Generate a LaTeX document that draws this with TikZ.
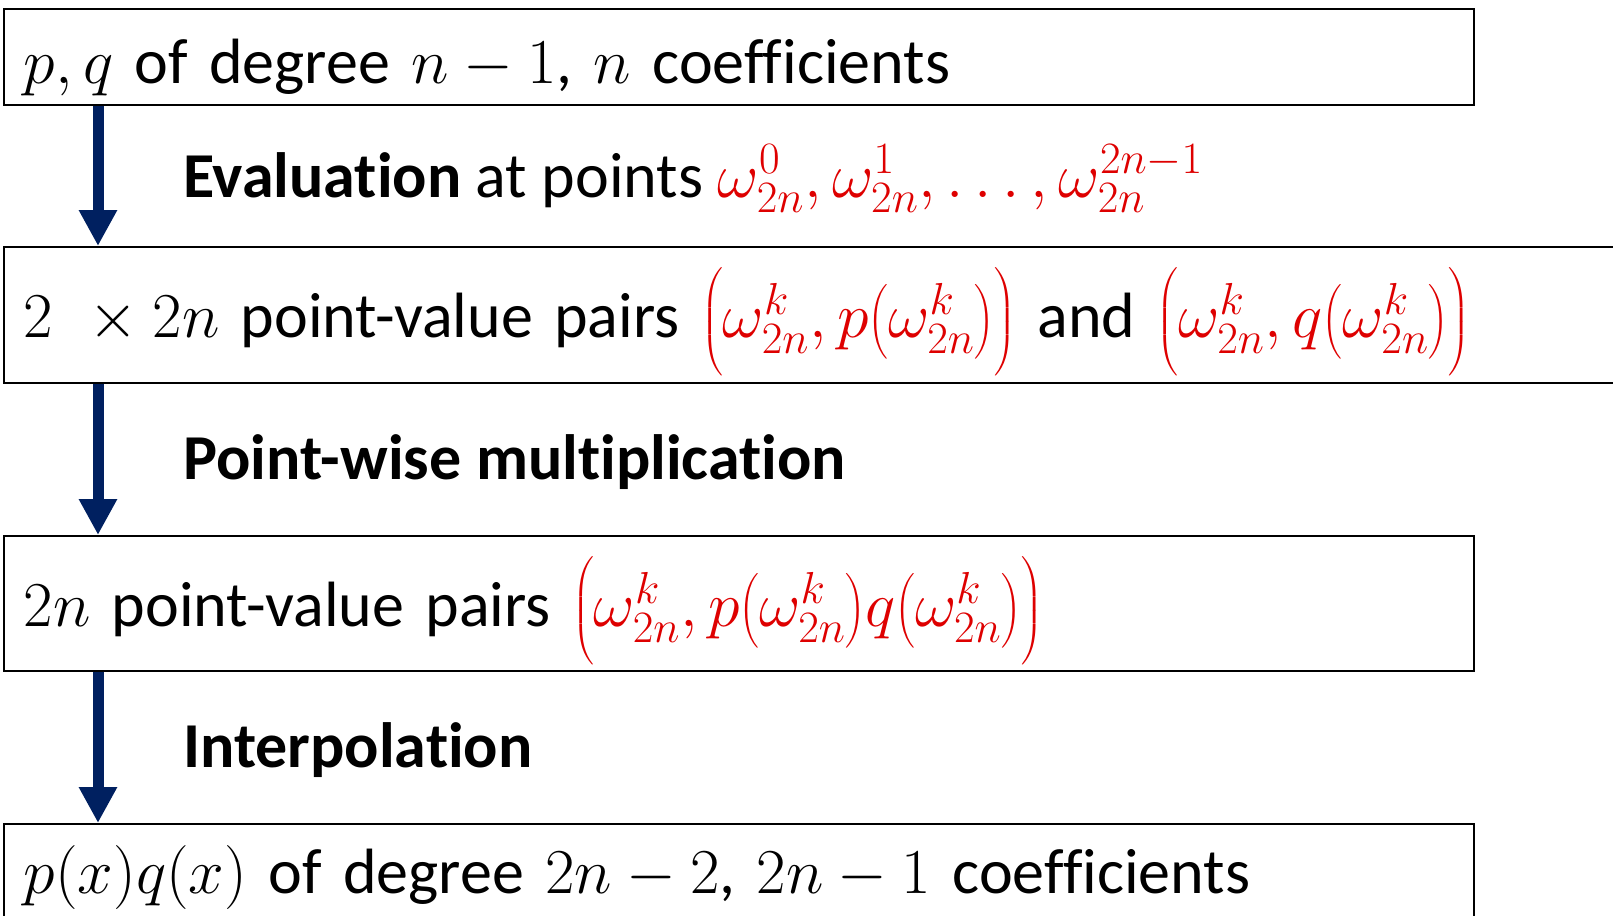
\RequirePackage{fix-cm}
\documentclass[tikz,border=0pt]{standalone}
\usepackage{exscale}
\usepackage{amsmath}
\usepackage{fontspec}
\setmainfont{Carlito}[Ligatures=NoCommon]
\usetikzlibrary{arrows.meta, positioning}
\definecolor{navyarrow}{RGB}{0,32,96}
\definecolor{ptred}{RGB}{222,0,0}
\newcommand{\pairopen}{\mathopen{\vcenter{\hbox{\scalebox{1}[0.9]{$\Bigl($}}}}}
\newcommand{\pairclose}{\mathclose{\vcenter{\hbox{\scalebox{1}[0.9]{$\Bigr)$}}}}}

\begin{document}
\begin{tikzpicture}[
    x=1pt, y=-1pt,
    box/.style={draw, line width=1.6pt, anchor=north west, inner xsep=20pt, inner ysep=0pt, align=left, font=\fontsize{64}{77}\selectfont},
    lbl/.style={anchor=base west, inner sep=0pt, font=\fontsize{64}{77}\selectfont},
    line/.style={draw, navyarrow, line width=11pt, -{Triangle[width=36pt, length=36pt]}}
]
\useasboundingbox (0,0) rectangle (1613,915);
\clip (0,0) rectangle (1613,915);

\node [box, text width=1430pt, text height=75pt, text depth=21pt] (coef) at (3,8) {$p, q$ of degree $n-1$, $n$ coefficients};
\node [box, text width=1640pt, text height=91pt, text depth=45pt] (pairs) at (3,246) {$2\ \times 2n$ point-value pairs \textcolor{ptred}{$\pairopen\omega_{2n}^{k}, p\bigl(\omega_{2n}^{k}\bigr)\pairclose$} and \textcolor{ptred}{$\pairopen\omega_{2n}^{k}, q\bigl(\omega_{2n}^{k}\bigr)\pairclose$}};
\node [box, text width=1430pt, text height=91pt, text depth=44pt] (prod) at (3,535) {$2n$ point-value pairs \textcolor{ptred}{$\pairopen\omega_{2n}^{k}, p\bigl(\omega_{2n}^{k}\bigr)q\bigl(\omega_{2n}^{k}\bigr)\pairclose$}};
\node [box, text width=1430pt, text height=70pt, text depth=65pt] (result) at (3,823) {$p(x)q(x)$ of degree $2n-2$, $2n-1$ coefficients};

\node [lbl] (evalstep) at (183,197) {\textbf{Evaluation} at points \textcolor{ptred}{$\omega_{2n}^{0}, \omega_{2n}^{1}, \ldots, \omega_{2n}^{2n-1}$}};
\node [lbl] (multstep) at (183,479) {\textbf{Point-wise multiplication}};
\node [lbl] (interpstep) at (183,767) {\textbf{Interpolation}};

\path [line] ([xshift=95pt]coef.south west) -- ([xshift=95pt]pairs.north west);
\path [line] ([xshift=95pt]pairs.south west) -- ([xshift=95pt]prod.north west);
\path [line] ([xshift=95pt]prod.south west) -- ([xshift=95pt]result.north west);
\end{tikzpicture}
\end{document}
